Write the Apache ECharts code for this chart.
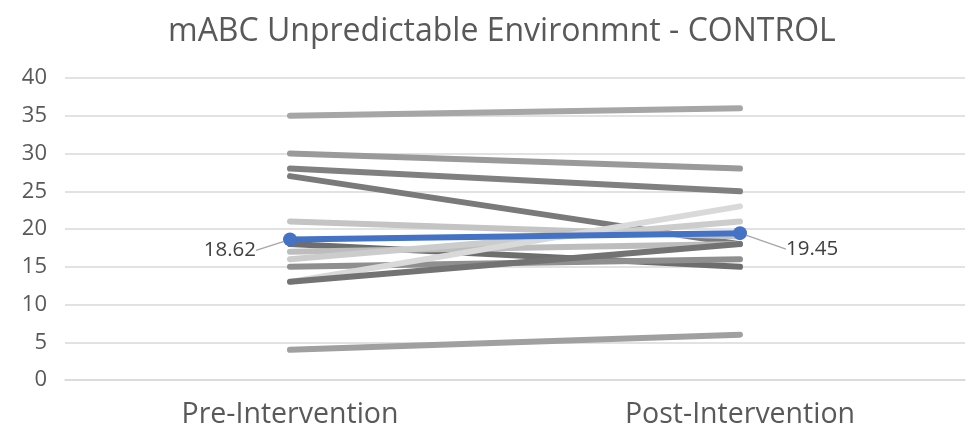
<!DOCTYPE html>
<html><head><meta charset="utf-8">
<script src="https://cdn.jsdelivr.net/npm/echarts@6/dist/echarts.min.js"></script>
<style>html,body{margin:0;padding:0;background:#fff}#c{width:972px;height:436px}</style>
</head><body><div id="c"></div>
<script>
var categories = ['Pre-Intervention', 'Post-Intervention'];
var yTicks = [0, 5, 10, 15, 20, 25, 30, 35, 40];
var preScores  = [35, 30, 28, 27, 21, 18, 17, 16, 15, 13, 13, 4];
var postScores = [36, 28, 25, 18, 19, 15, 18, 21, 16, 23, 18, 6];
var meanValues = [18.62, 19.45];
var lineColors = ['#a6a6a6','#9a9a9a','#808080','#7a7a7a','#c4c4c4','#6e6e6e','#bdbdbd','#cccccc','#8f8f8f','#d9d9d9','#737373','#a0a0a0'];
var FONT = '"Open Sans", sans-serif';

var series = [];
for (var i = 0; i < preScores.length; i++) {
  series.push({
    type: 'line', data: [preScores[i], postScores[i]],
    symbol: 'none', silent: true, animation: false,
    lineStyle: { color: lineColors[i], width: 6, cap: 'round' }, z: 2
  });
}
series.push({
  type: 'line', symbol: 'circle', symbolSize: 14, animation: false, z: 5,
  data: meanValues.map(function (v, k) {
    return { value: v, label: { position: k === 0 ? 'left' : 'right' } };
  }),
  itemStyle: { color: '#4472C4' },
  lineStyle: { color: '#4472C4', width: 6, cap: 'round' },
  label: {
    show: true, fontFamily: FONT, fontSize: 20.5, color: '#404040',
    formatter: function (p) { return p.value.toFixed(2); }
  },
  labelLine: { show: true, lineStyle: { color: '#a6a6a6', width: 1.3 } },
  labelLayout: function (p) {
    if (p.dataIndex === 0) return { dx: -22, dy: 11 };
    return { dx: 34, dy: 16 };
  }
});

var chart = echarts.init(document.getElementById('c'), null, { renderer: 'canvas' });
chart.setOption({
  animation: false,
  title: {
    text: 'mABC Unpredictable Environmnt - CONTROL', left: 163, top: 11,
    textStyle: { fontFamily: FONT, fontSize: 32, fontWeight: 'normal', color: '#595959' }
  },
  grid: { left: 65, right: 7, top: 78, bottom: 56 },
  xAxis: {
    type: 'category', data: categories, boundaryGap: true,
    axisLine: { lineStyle: { color: '#d9d9d9', width: 1.5 } }, axisTick: { show: false },
    axisLabel: { fontFamily: FONT, fontSize: 28.5, color: '#595959', margin: 20 }
  },
  yAxis: {
    type: 'value', min: yTicks[0], max: yTicks[yTicks.length - 1], interval: 5,
    axisLine: { show: false }, axisTick: { show: false },
    splitLine: { lineStyle: { color: '#d9d9d9', width: 1.5 } },
    axisLabel: { fontFamily: FONT, fontSize: 22, color: '#595959', margin: 18 }
  },
  series: series
});
</script></body></html>
